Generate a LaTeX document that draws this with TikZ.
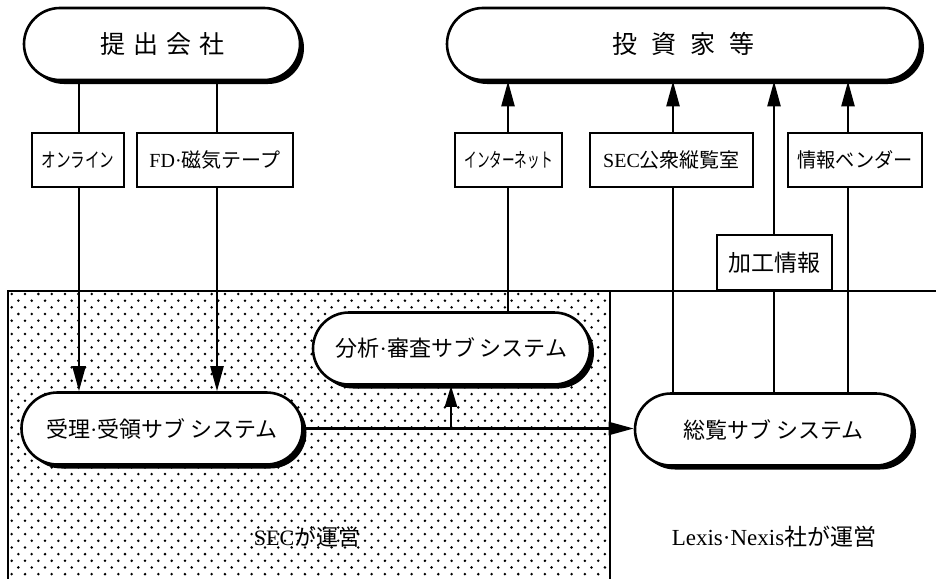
\documentclass[tikz,border=0pt]{standalone}
\usepackage{fontspec}
\usepackage{graphicx}
\setmainfont{Liberation Serif}
\newfontfamily\jp{Noto Sans CJK JP}
\usetikzlibrary{shapes.misc,arrows.meta,shadows}
\pgfdeclarelayer{dotlayer}
\pgfdeclarelayer{linelayer}
\pgfsetlayers{dotlayer,linelayer,main}
\begin{document}
\begin{tikzpicture}[x=1pt,y=-1pt,
  sysnode/.style={rounded rectangle, draw, line width=2.6pt, fill=white,
    minimum height=72pt, inner sep=0pt, font=\fontsize{22}{24}\selectfont,
    drop shadow={shadow xshift=4pt,shadow yshift=-4pt,fill=black,opacity=1}},
  titlefont/.style={font=\fontsize{25}{27}\selectfont\jp},
  lbl/.style={rectangle, draw, line width=2pt, fill=white, minimum height=54pt,
    inner sep=0pt, font=\fontsize{20}{22}\selectfont},
  conn/.style={line width=2.3pt},
  arr/.style={line width=2.3pt, -{Triangle[length=25pt,width=13pt]}},
  arrs/.style={line width=2.3pt, -{Triangle[length=21pt,width=12pt]}},
  optext/.style={font=\fontsize{22}{24}\selectfont},
]
\useasboundingbox (0,0) rectangle (936,578);

% nodes
\node[sysnode, titlefont, minimum width=276pt] (sub) at (162,44) {提\hspace{8pt}出\hspace{8pt}会\hspace{8pt}社};
\node[sysnode, titlefont, minimum width=473pt] (inv) at (683.5,44) {投\hspace{14pt}資\hspace{14pt}家\hspace{14pt}等};

\node[lbl, minimum width=92pt] (onl) at (78,160) {\scalebox{0.73}[1]{\jp オンライン}};
\node[lbl, minimum width=156pt] (fd) at (215,160) {FD·{\jp 磁気テープ}};
\node[lbl, minimum width=107pt] (net) at (508.5,160) {\scalebox{0.63}[1]{\jp インターネット}};
\node[lbl, minimum width=163pt] (pub) at (671.5,160) {SEC{\jp 公衆縦覧室}};
\node[lbl, minimum width=134pt] (ven) at (855,160) {\scalebox{0.96}[1]{\jp 情報ベンダー}};
\node[lbl, minimum width=115pt, minimum height=55pt, font=\fontsize{23}{25}\selectfont] (proc) at (774.5,262.5) {\jp 加工情報};

\node[sysnode, minimum width=281pt] (rec) at (162,428.5) {{\jp 受理}·{\jp 受領サブ システム}};
\node[sysnode, minimum width=277pt] (ana) at (451.5,348.5) {{\jp 分析}·{\jp 審査サブ システム}};
\node[sysnode, minimum width=277pt] (rev) at (773.5,429.5) {\jp 総覧サブ システム};

\node[optext] (secop) at (307,537) {SEC{\jp が運営}};
\node[optext, font=\fontsize{23}{25}\selectfont] (lnop) at (774,537) {Lexis·Nexis{\jp 社が運営}};

% column positions
\coordinate (xa) at (79,0);
\coordinate (xb) at (217,0);
\coordinate (xc) at (508,0);
\coordinate (xd) at (673,0);
\coordinate (xe) at (774,0);
\coordinate (xf) at (848,0);
\coordinate (xg) at (451,0);

% dotted region
\begin{pgfonlayer}{dotlayer}
\begin{scope}
\clip (8,291) rectangle (610,580);
\foreach \r in {0,...,44} {
  \foreach \c in {0,...,46} {
    \fill ({11.7+\c*13.33+mod(\r,2)*6.67},{294+\r*6.67}) circle (1.4pt);
  }
}
\end{scope}
\end{pgfonlayer}

\begin{pgfonlayer}{linelayer}
\draw[line width=2.3pt] (8,580) -- (8,291) -- (936,291);
\draw[line width=2.3pt] (610,291) -- (610,580);

\draw[conn] (sub.south -| xa) -- (onl.north -| xa);
\draw[arr] (onl.south -| xa) -- (rec.north -| xa);
\draw[conn] (sub.south -| xb) -- (fd.north -| xb);
\draw[arr] (fd.south -| xb) -- (rec.north -| xb);

\draw[conn] (ana.north -| xc) -- (net.south -| xc);
\draw[arr] (net.north -| xc) -- (inv.south -| xc);
\draw[conn] (rev.north -| xd) -- (pub.south -| xd);
\draw[arr] (pub.north -| xd) -- (inv.south -| xd);
\draw[conn] (rev.north -| xe) -- (proc.south -| xe);
\draw[arr] (proc.north -| xe) -- (inv.south -| xe);
\draw[conn] (rev.north -| xf) -- (ven.south -| xf);
\draw[arr] (ven.north -| xf) -- (inv.south -| xf);

\draw[arr] (rec.east) -- (rec.east -| rev.west);
\draw[arrs] (rec.east -| xg) -- (ana.south -| xg);
\end{pgfonlayer}
\end{tikzpicture}
\end{document}
